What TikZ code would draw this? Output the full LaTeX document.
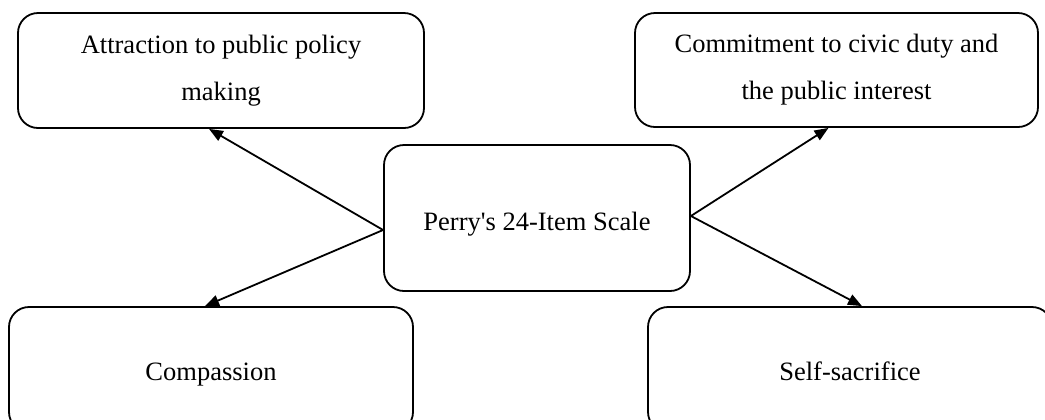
\documentclass[tikz,border=0pt]{standalone}
\usepackage{fontspec}
\setmainfont{Liberation Serif}
\usepackage{tikz}
\usetikzlibrary{arrows.meta}

\tikzset{
  dim/.style={draw, line width=0.9pt, rounded corners=10pt, inner sep=0pt,
    align=center, font=\fontsize{13.25}{23.5}\selectfont},
  link/.style={line width=0.9pt, -{Triangle[length=7pt,width=5.5pt]}}
}

\begin{document}
\begin{tikzpicture}[x=0.5pt,y=-0.5pt]
    \useasboundingbox (0,0) rectangle (1045,419);
    \clip (0,0) rectangle (1045,419);

    \node[dim, minimum width=153pt, minimum height=73pt, text height=15pt, text depth=3pt]
    (scale) at (537,218) {Perry\textquotesingle s 24-Item Scale};
    \node[dim, minimum width=203pt, minimum height=57.5pt] (policy) at (221,70.5)
    {Attraction to public policy\\making};
    \node[dim, minimum width=201.5pt, minimum height=57pt] (civic) at (836.5,70)
    {Commitment to civic duty and\\the public interest};
    \node[dim, minimum width=202pt, minimum height=62.5pt, text height=13.5pt, text depth=3pt]
    (compassion) at (211,369.5) {Compassion};
    \node[dim, minimum width=202pt, minimum height=62.5pt, text height=13.5pt, text depth=3pt]
    (sacrifice) at (850,369.5) {Self-sacrifice};

    \draw[link] ([yshift=-6pt]scale.west) -- ([xshift=-6pt]policy.south);
    \draw[link] ([yshift=-6pt]scale.west) -- ([xshift=-3pt]compassion.north);
    \draw[link] ([yshift=1pt]scale.east) -- ([xshift=-4pt]civic.south);
    \draw[link] ([yshift=1pt]scale.east) -- ([xshift=6pt]sacrifice.north);

\end{tikzpicture}
\end{document}
